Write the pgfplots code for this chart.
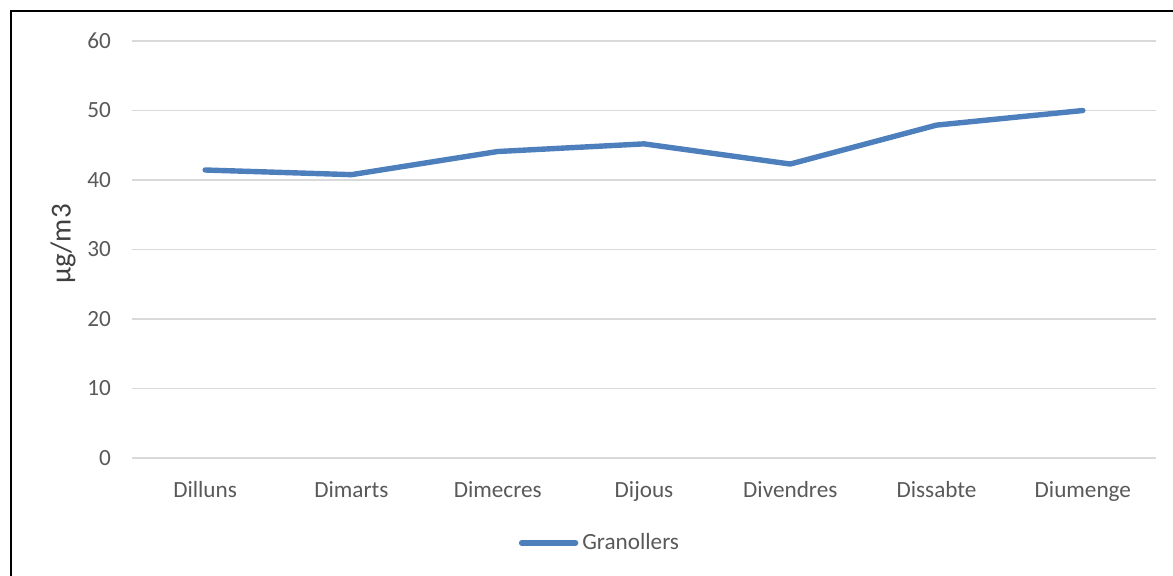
\documentclass[border=0pt]{standalone}
\usepackage{fontspec}
\setmainfont{Carlito}
\usepackage{pgfplots}
\pgfplotsset{compat=1.18}
\definecolor{lineblue}{HTML}{4E7FBD}
\definecolor{gridgray}{HTML}{D9D9D9}
\definecolor{textgray}{HTML}{595959}
\definecolor{labelgray}{HTML}{404040}
\begin{document}
\begin{tikzpicture}
\useasboundingbox (0,0) rectangle (586.5pt,287.5pt);
\draw[line width=1pt,black] (5.5pt,-10pt) -- (5.5pt,282pt) -- (600pt,282pt);
\begin{axis}[
  at={(66pt,58.5pt)}, anchor=south west,
  scale only axis, width=512pt, height=208.5pt,
  xmin=-0.5, xmax=6.5, ymin=0, ymax=60,
  xtick=data,
  xticklabels={Dilluns,Dimarts,Dimecres,Dijous,Divendres,Dissabte,Diumenge},
  ytick={0,10,20,30,40,50,60},
  axis line style={draw=none},
  major tick length=0pt,
  ymajorgrids, grid style={gridgray, line width=0.8pt},
  tick label style={font=\fontsize{11.6}{13}\selectfont, text=textgray},
  /pgf/number format/assume math mode=true,
  yticklabel style={xshift=-7pt},
  xticklabel style={yshift=-8pt},
  ylabel={µg/m3},
  ylabel style={font=\fontsize{14.5}{16}\selectfont, text=labelgray,
    at={(axis description cs:-0.0674,0.513)}, anchor=center},
  legend style={at={(0.458,-0.204)}, anchor=center, draw=none, fill=none,
    font=\fontsize{11.6}{13}\selectfont, text=textgray,
    /tikz/every even column/.append style={column sep=0pt}},
  legend image code/.code={\draw[#1, line cap=round] (0pt,0pt) -- (27pt,0pt);},
  legend cell align=left,
]
\addplot[lineblue, line width=2.7pt, line cap=round, line join=round] coordinates {
  (0,41.44) (1,40.77) (2,44.1) (3,45.2) (4,42.3) (5,47.9) (6,50.0)
};
\addlegendentry{Granollers}
\end{axis}
\end{tikzpicture}
\end{document}
